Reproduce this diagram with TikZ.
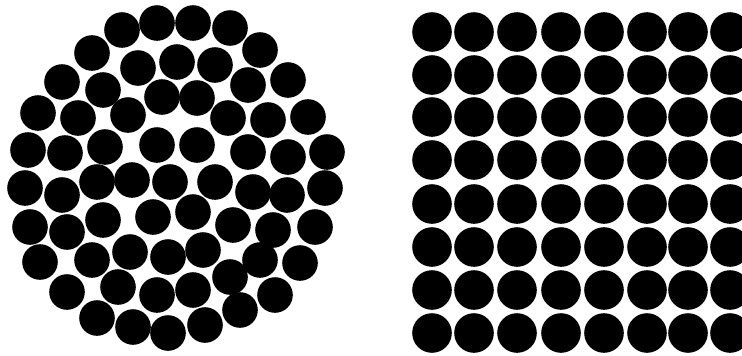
\documentclass[tikz,border=0pt]{standalone}
\begin{document}
\begin{tikzpicture}[x=1pt,y=-1pt,
  ball/.style={fill=black},
]
\fill[white] (0,0) rectangle (742,356);
\useasboundingbox (0,0) rectangle (742,356);
\clip (0,0) rectangle (742,356);
% random packing
\foreach \x/\y in {
122/30,157/23,193/23,230/28,
92/53,260/50,
138/68,177/62,215/65,
62/82,103/90,248/85,288/80,
162/97,197/98,
38/113,78/118,128/115,228/118,268/120,308/117,
28/150,65/153,105/147,157/145,197/145,248/152,288/157,327/152,
25/188,62/195,97/182,132/180,170/182,215/182,253/192,287/195,325/188,
30/227,67/232,103/220,153/217,193/212,233/225,273/230,315/227,
40/262,92/260,130/252,168/257,203/250,260/260,300/263,
67/292,118/287,157/295,193/290,230/277,275/295,
97/318,133/327,168/333,205/325,240/310}
  \fill[ball] (\x,\y) circle (17.8);
% square grid
\foreach \x in {432,474,517,561,604,647,688,730}
  \foreach \y in {32,75,117,160,204,247,290,333}
    \fill[ball] (\x,\y) circle (19.8);
\end{tikzpicture}
\end{document}
